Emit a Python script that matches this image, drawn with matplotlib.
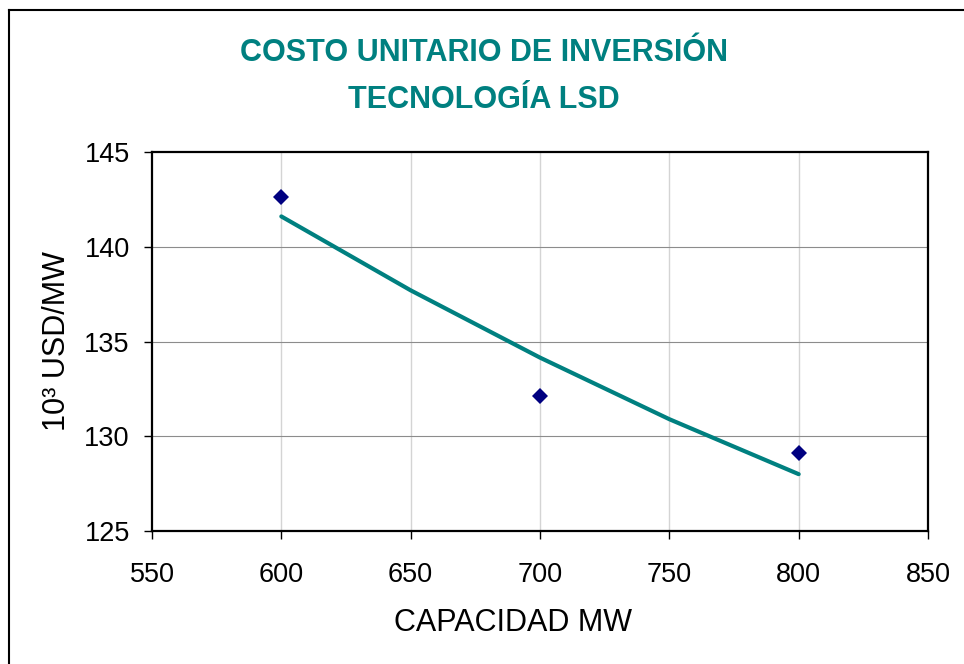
import numpy as np
import matplotlib.pyplot as plt
from matplotlib.lines import Line2D

plt.rcParams['font.family'] = ['Liberation Sans', 'DejaVu Sans']

# Data
capacity = [600, 700, 800]
unit_cost = [142.6, 132.1, 129.1]
# Power trend line, values read at the grid positions
trend_x = [600, 650, 700, 750, 800]
trend_y = [141.6, 137.7, 134.15, 130.9, 128.0]

x_ticks = [550, 600, 650, 700, 750, 800, 850]
y_ticks = [125, 130, 135, 140, 145]

fig = plt.figure(figsize=(9.64, 6.64), dpi=100)
ax = fig.add_axes([152 / 964, 1 - 531 / 664, (928 - 152) / 964, (531 - 152) / 664])

# Grid: vertical light, horizontal darker
for xv in x_ticks[1:-1]:
	ax.axvline(xv, color='#d4d4d4', lw=1.0, zorder=0)
for yv in y_ticks[1:-1]:
	ax.axhline(yv, color='#8c8c8c', lw=0.8, zorder=0)

ax.plot(trend_x, trend_y, color='#008080', lw=3.0, solid_capstyle='round',
	solid_joinstyle='round', zorder=2)
ax.plot(capacity, unit_cost, linestyle='none', marker='D', ms=8,
	color='#000080', markeredgewidth=0, zorder=3)

ax.set_xlim(550, 850)
ax.set_ylim(125, 145)
ax.set_xticks(x_ticks)
ax.set_yticks(y_ticks)
ax.tick_params(direction='out', length=6, width=1, colors='black', labelsize=19.5)
ax.tick_params(axis='x', pad=16)
ax.tick_params(axis='y', pad=10)
for sp in ax.spines.values():
	sp.set_linewidth(1.6)
	sp.set_color('black')

ax.set_xlabel('CAPACIDAD MW', fontsize=22)
ax.xaxis.set_label_coords((513 - 152) / (928 - 152), -(608 - 531) / (531 - 152))
ax.set_ylabel('10³ USD/MW', fontsize=22)
ax.yaxis.set_label_coords(-(152 - 72) / (928 - 152), 0.5)

fig.text(484 / 964, 1 - 53 / 664, 'COSTO UNITARIO DE INVERSIÓN', color='#008080',
	fontsize=22, fontweight='bold', ha='center', va='center')
fig.text(484 / 964, 1 - 100 / 664, 'TECNOLOGÍA LSD', color='#008080',
	fontsize=22, fontweight='bold', ha='center', va='center')

# Chart area border (top and left edges visible)
bx, by = 8.5 / 964, 1 - 9.5 / 664
fig.add_artist(Line2D([bx, bx], [0, by], transform=fig.transFigure, color='black', lw=1.5))
fig.add_artist(Line2D([bx, 1], [by, by], transform=fig.transFigure, color='black', lw=1.5))

fig.savefig('out.png', dpi=100)
